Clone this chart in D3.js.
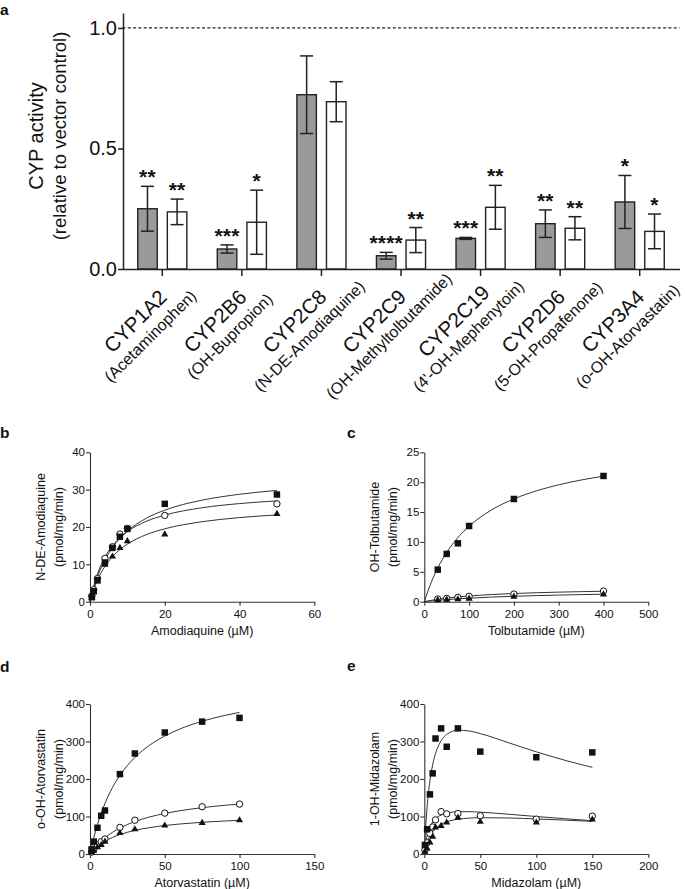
<!DOCTYPE html>
<html><head><meta charset="utf-8">
<script src="https://cdn.jsdelivr.net/npm/d3@7"></script>
<style>
body{margin:0;background:#fff}
svg{display:block}
text{font-family:"Liberation Sans",Arial,Helvetica,sans-serif;fill:#111}
</style>
</head><body>
<svg id="chart" width="685" height="889"></svg>
<script>
// ---------- Panel a data ----------
const cypNames = ["CYP1A2","CYP2B6","CYP2C8","CYP2C9","CYP2C19","CYP2D6","CYP3A4"];
const cypSubstrates = ["(Acetaminophen)","(OH-Bupropion)","(N-DE-Amodiaquine)","(OH-Methyltolbutamide)","(4'-OH-Mephenytoin)","(5-OH-Propafenone)","(o-OH-Atorvastatin)"];
const greyValues  = [0.250, 0.083, 0.723, 0.055, 0.127, 0.188, 0.278];
const greyErrors  = [0.093, 0.017, 0.161, 0.014, 0.004, 0.057, 0.110];
const whiteValues = [0.237, 0.194, 0.694, 0.120, 0.256, 0.169, 0.156];
const whiteErrors = [0.053, 0.133, 0.083, 0.052, 0.091, 0.048, 0.072];
const greyStars  = ["**","***","","****","***","**","*"];
const whiteStars = ["**","*","","**","**","**","*"];
const aTicks = [0, 0.5, 1.0];

// ---------- Panel b data (Amodiaquine) ----------
const bX        = [0.5, 1, 2, 4, 6, 8, 10, 20, 50];
const bSquare   = [1.2, 2.8, 5.8, 10.5, 14.4, 17.4, 19.5, 26.2, 28.7];
const bCircle   = [1.5, 3.2, 6.2, 11.6, 14.7, 18.1, 19.6, 23.1, 26.2];
const bTriangle = [1.1, 2.6, 5.4, 9.9, 12.1, 14.4, 16.2, 18.0, 23.5];
const bFitX        = [0, 0.5, 1, 2, 4, 6, 8, 10, 15, 20, 30, 40, 50];
const bFitSquare   = [0, 1.96, 3.70, 6.69, 11.23, 14.50, 16.98, 18.91, 22.31, 24.51, 27.19, 28.76, 29.79];
const bFitCircle   = [0, 2.28, 4.24, 7.44, 11.95, 14.98, 17.14, 18.77, 21.50, 23.18, 25.15, 26.27, 26.99];
const bFitTriangle = [0, 1.72, 3.22, 5.75, 9.46, 12.05, 13.95, 15.42, 17.93, 19.52, 21.42, 22.52, 23.23];

// ---------- Panel c data (Tolbutamide) ----------
const cX        = [30, 50, 75, 100, 200, 400];
const cSquare   = [5.36, 8.0, 9.77, 12.67, 17.19, 21.04];
const cCircle   = [0.45, 0.56, 0.72, 0.90, 1.28, 1.79];
const cTriangle = [0.28, 0.33, 0.40, 0.50, 0.84, 1.23];
const cFitX        = [0, 15, 30, 50, 75, 100, 150, 200, 250, 300, 350, 400];
const cFitSquare   = [0, 3.15, 5.64, 8.24, 10.73, 12.63, 15.35, 17.20, 18.54, 19.56, 20.36, 21.00];
const cFitCircle   = [0, 0.22, 0.40, 0.60, 0.80, 0.96, 1.20, 1.37, 1.50, 1.60, 1.68, 1.75];
const cFitTriangle = [0, 0.12, 0.22, 0.35, 0.48, 0.59, 0.77, 0.91, 1.02, 1.11, 1.19, 1.25];

// ---------- Panel d data (Atorvastatin) ----------
const dX        = [1, 2.5, 5, 7.5, 10, 20, 30, 50, 75, 100];
const dSquare   = [12, 33, 70, 102, 116, 213, 268, 324, 353, 363];
const dCircle   = [5, 13, 24, 33, 40, 71, 90, 109, 126, 133];
const dTriangle = [4, 9, 18, 24, 33, 56, 66, 76, 83, 90];
const dFitX        = [0, 2.5, 5, 10, 15, 20, 30, 40, 50, 60, 75, 90, 100];
const dFitSquare   = [0, 42.9, 78.7, 134.9, 177.0, 209.8, 257.5, 290.5, 314.7, 333.2, 354.0, 369.4, 377.6];
const dFitCircle   = [0, 13.3, 24.7, 43.3, 57.7, 69.2, 86.5, 98.9, 108.1, 115.3, 123.6, 129.8, 133.1];
const dFitTriangle = [0, 11.0, 20.0, 33.8, 44.0, 51.8, 62.9, 70.4, 75.9, 80.0, 84.6, 88.0, 89.8];

// ---------- Panel e data (Midazolam) ----------
const eX        = [0.5, 2.5, 5, 7.5, 10, 15, 20, 30, 50, 100, 150];
const eSquare   = [24, 66, 159, 215, 308, 335, 286, 335, 273, 258, 271];
const eCircle   = [10, 30, 55, 72, 91, 113, 107, 108, 102, 93, 101];
const eTriangle = [6, 15, 31, 46, 71, 75, 84, 97, 86, 84, 92];
const eFitX        = [0, 0.5, 1, 2.5, 5, 7.5, 10, 15, 20, 30, 40, 50, 75, 100, 125, 150];
const eFitSquare   = [0, 31.5, 59.1, 123.9, 194.4, 238.5, 267.7, 301.9, 318.9, 330.0, 328.1, 321.1, 296.9, 272.4, 250.4, 231.1];
const eFitCircle   = [0, 13.2, 24.2, 48.2, 71.8, 85.5, 94.2, 104.1, 109.0, 112.7, 112.8, 111.5, 106.1, 100.0, 94.2, 88.8];
const eFitTriangle = [0, 7.3, 13.8, 29.6, 47.6, 59.7, 68.2, 79.2, 85.8, 92.7, 95.7, 96.8, 96.1, 93.5, 90.4, 87.1];

// ================= drawing =================
const svg = d3.select("#chart");
const ink = "#222";
const FONT = '"Liberation Sans",Arial,Helvetica,sans-serif';

function panelLabel(t, x, y){
  svg.append("text").attr("x", x).attr("y", y).attr("font-size", 15.5).attr("font-weight", "bold").text(t);
}

// ---------- Panel a ----------
(function(){
  const x = d3.scaleBand().domain(cypNames).range([122.5, 679.5]).padding(0);
  const y = d3.scaleLinear().domain([0, 1.062]).range([269, 13]);
  const g = svg.append("g");
  const barW = 19.5, off = 14.8, capW = 13;

  g.append("line").attr("x1", x.range()[0]).attr("x2", x.range()[1])
    .attr("y1", y(1)).attr("y2", y(1))
    .attr("stroke", ink).attr("stroke-width", 1.2).attr("stroke-dasharray", "3,2.3");

  const series = [
    {vals: greyValues, errs: greyErrors, stars: greyStars, dx: -off, fill: "#9a9a9a"},
    {vals: whiteValues, errs: whiteErrors, stars: whiteStars, dx: off, fill: "#ffffff"}
  ];
  series.forEach(s => {
    const items = cypNames.map((n, i) => ({n, v: s.vals[i], e: s.errs[i], st: s.stars[i]}));
    const cx = d => x(d.n) + x.bandwidth() / 2 + s.dx;
    g.selectAll(null).data(items).join("rect")
      .attr("x", d => cx(d) - barW / 2).attr("y", d => y(d.v))
      .attr("width", barW).attr("height", d => y(0) - y(d.v))
      .attr("fill", s.fill).attr("stroke", ink).attr("stroke-width", 1.4);
    g.selectAll(null).data(items).join("line")
      .attr("x1", cx).attr("x2", cx)
      .attr("y1", d => y(d.v + d.e)).attr("y2", d => y(d.v - d.e))
      .attr("stroke", ink).attr("stroke-width", 1.5);
    [1, -1].forEach(sg => {
      g.selectAll(null).data(items).join("line")
        .attr("x1", d => cx(d) - capW / 2).attr("x2", d => cx(d) + capW / 2)
        .attr("y1", d => y(d.v + sg * d.e)).attr("y2", d => y(d.v + sg * d.e))
        .attr("stroke", ink).attr("stroke-width", 1.5);
    });
    g.selectAll(null).data(items.filter(d => d.st)).join("text")
      .attr("x", cx).attr("y", d => y(d.v + d.e) - 2)
      .attr("text-anchor", "middle").attr("font-size", 21).attr("font-weight", "bold")
      .attr("letter-spacing", 0.2)
      .text(d => d.st);
  });

  const ya = g.append("g").attr("transform", "translate(123,0)")
    .call(d3.axisLeft(y).tickValues(aTicks).tickFormat(d3.format(".1f")).tickSize(5).tickSizeOuter(0).tickPadding(1));
  ya.selectAll("text").attr("font-size", 20).attr("font-family", FONT).attr("fill", "#111");
  ya.selectAll("line,path").attr("stroke", ink).attr("stroke-width", 1.5);

  const xa = g.append("g").attr("transform", "translate(0,269)")
    .call(d3.axisBottom(x).tickSize(7).tickSizeOuter(0).tickFormat(""));
  xa.selectAll("line,path").attr("stroke", ink).attr("stroke-width", 1.5);

  const lab = g.selectAll(null).data(cypNames).join("g")
    .attr("transform", d => `translate(${x(d) + x.bandwidth() / 2},269) rotate(-45)`);
  lab.append("text").attr("x", -56).attr("y", 25).attr("text-anchor", "middle")
    .attr("font-size", 20.5).text(d => d);
  lab.append("text").attr("x", -56).attr("y", 44.5).attr("text-anchor", "middle")
    .attr("font-size", 16).text((d, i) => cypSubstrates[i]);

  const yt = g.append("g").attr("transform", "translate(0,136) rotate(-90)");
  yt.append("text").attr("x", 0).attr("y", 43).attr("text-anchor", "middle").attr("font-size", 20).text("CYP activity");
  yt.append("text").attr("x", 0).attr("y", 66).attr("text-anchor", "middle").attr("font-size", 18.5).text("(relative to vector control)");

  panelLabel("a", 0, 14.5);
})();

// ---------- scatter panels ----------
function scatterPanel(o){
  const x = d3.scaleLinear().domain(o.xDomain).range([o.left, o.right]);
  const y = d3.scaleLinear().domain(o.yDomain).range([o.bottom, o.top]);
  const g = svg.append("g");

  const xa = g.append("g").attr("transform", `translate(0,${o.bottom})`)
    .call(d3.axisBottom(x).tickValues(o.xTicks).tickSize(4).tickSizeOuter(0).tickPadding(4));
  const ya = g.append("g").attr("transform", `translate(${o.left},0)`)
    .call(d3.axisLeft(y).tickValues(o.yTicks).tickSize(4).tickSizeOuter(0).tickPadding(1));
  [xa, ya].forEach(a => {
    a.selectAll("line,path").attr("stroke", "#333").attr("stroke-width", 1.1);
    a.selectAll("text").attr("font-size", 11.5).attr("font-family", FONT).attr("fill", "#111");
  });

  const line = d3.line().x(d => x(d[0])).y(d => y(d[1])).curve(d3.curveMonotoneX);
  [o.fitCircle, o.fitTriangle, o.fitSquare].forEach(f => {
    g.append("path").datum(d3.zip(o.fitX, f)).attr("d", line)
      .attr("fill", "none").attr("stroke", "#333").attr("stroke-width", 1);
  });

  const circ = d3.zip(o.px, o.circle);
  const tri = d3.zip(o.px, o.triangle);
  const sq = d3.zip(o.px, o.square);
  g.selectAll(null).data(circ).join("circle")
    .attr("cx", d => x(d[0])).attr("cy", d => y(d[1])).attr("r", 3.2)
    .attr("fill", "#fff").attr("stroke", "#111").attr("stroke-width", 1);
  const triSym = d3.symbol().type(d3.symbolTriangle).size(22);
  g.selectAll(null).data(tri).join("path")
    .attr("transform", d => `translate(${x(d[0])},${y(d[1])})`).attr("d", triSym).attr("fill", "#111");
  const sqSym = d3.symbol().type(d3.symbolSquare).size(42);
  g.selectAll(null).data(sq).join("path")
    .attr("transform", d => `translate(${x(d[0])},${y(d[1])})`).attr("d", sqSym).attr("fill", "#111");

  g.append("text").attr("x", (o.left + o.right) / 2).attr("y", o.bottom + 33)
    .attr("text-anchor", "middle").attr("font-size", 12.5).text(o.xTitle);
  const yt = g.append("g").attr("transform", `translate(${o.left},${(o.top + o.bottom) / 2}) rotate(-90)`);
  yt.append("text").attr("x", 0).attr("y", -45).attr("text-anchor", "middle").attr("font-size", 12.5).text(o.yTitle);
  yt.append("text").attr("x", 0).attr("y", -27).attr("text-anchor", "middle").attr("font-size", 12.5).text("(pmol/mg/min)");
}

scatterPanel({left: 90, right: 314.3, top: 452.3, bottom: 601.7,
  xDomain: [0, 60], yDomain: [0, 40], xTicks: [0, 20, 40, 60], yTicks: [0, 10, 20, 30, 40],
  px: bX, square: bSquare, circle: bCircle, triangle: bTriangle,
  fitX: bFitX, fitSquare: bFitSquare, fitCircle: bFitCircle, fitTriangle: bFitTriangle,
  xTitle: "Amodiaquine (µM)", yTitle: "N-DE-Amodiaquine"});
panelLabel("b", 0, 438);

scatterPanel({left: 424.3, right: 648.3, top: 452.3, bottom: 601.7,
  xDomain: [0, 500], yDomain: [0, 25], xTicks: [0, 100, 200, 300, 400, 500], yTicks: [0, 5, 10, 15, 20, 25],
  px: cX, square: cSquare, circle: cCircle, triangle: cTriangle,
  fitX: cFitX, fitSquare: cFitSquare, fitCircle: cFitCircle, fitTriangle: cFitTriangle,
  xTitle: "Tolbutamide (µM)", yTitle: "OH-Tolbutamide"});
panelLabel("c", 347, 438);

scatterPanel({left: 90, right: 314.3, top: 704, bottom: 854,
  xDomain: [0, 150], yDomain: [0, 400], xTicks: [0, 50, 100, 150], yTicks: [0, 100, 200, 300, 400],
  px: dX, square: dSquare, circle: dCircle, triangle: dTriangle,
  fitX: dFitX, fitSquare: dFitSquare, fitCircle: dFitCircle, fitTriangle: dFitTriangle,
  xTitle: "Atorvastatin (µM)", yTitle: "o-OH-Atorvastatin"});
panelLabel("d", 0, 672);

scatterPanel({left: 424.3, right: 648.3, top: 704, bottom: 854,
  xDomain: [0, 200], yDomain: [0, 400], xTicks: [0, 50, 100, 150, 200], yTicks: [0, 100, 200, 300, 400],
  px: eX, square: eSquare, circle: eCircle, triangle: eTriangle,
  fitX: eFitX, fitSquare: eFitSquare, fitCircle: eFitCircle, fitTriangle: eFitTriangle,
  xTitle: "Midazolam (µM)", yTitle: "1-OH-Midazolam"});
panelLabel("e", 347, 671);
</script>
</body></html>
